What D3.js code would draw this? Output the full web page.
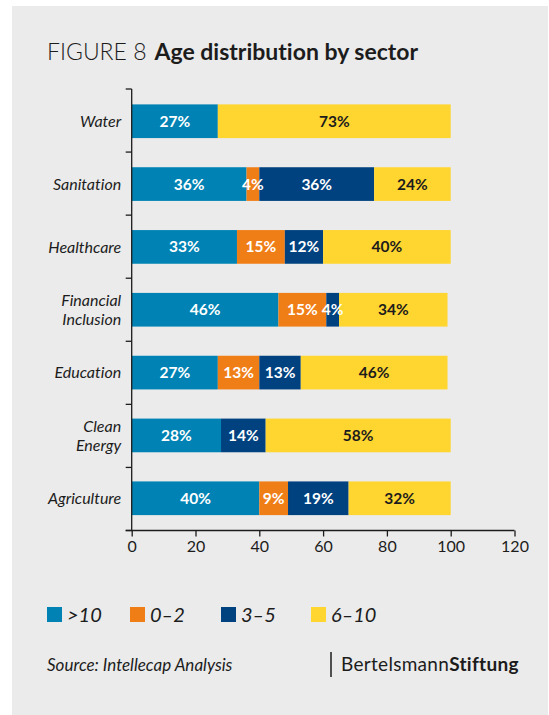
<!DOCTYPE html>
<html>
<head>
<meta charset="utf-8">
<script src="https://cdn.jsdelivr.net/npm/d3@7/dist/d3.min.js"></script>
<style>
  html, body { margin: 0; padding: 0; background: #ffffff; }
  svg { display: block; font-family: Lato, "Open Sans", sans-serif; font-variant-ligatures: none; }
</style>
</head>
<body>
<svg id="chart" width="549" height="715"></svg>
<script>
// Share of enterprises by age (years) within each sector, in percent
const sectors = ["Water", "Sanitation", "Healthcare", "Financial Inclusion", "Education", "Clean Energy", "Agriculture"];
const over10   = [27, 36, 33, 46, 27, 28, 40];
const age0to2  = [0, 4, 15, 15, 13, 0, 9];
const age3to5  = [0, 36, 12, 4, 13, 14, 19];
const age6to10 = [73, 24, 40, 34, 46, 58, 32];
const seriesNames = [">10", "0–2", "3–5", "6–10"];
const seriesColors = ["#0083b4", "#f07e17", "#00427f", "#ffd52f"];
const xTicks = [0, 20, 40, 60, 80, 100, 120];

const svg = d3.select("#chart");
const ink = "#1c1c1c";

// panel background
svg.append("rect").attr("x", 12).attr("y", 6).attr("width", 536).attr("height", 709).attr("fill", "#ebebeb");

// title
const title = svg.append("text").attr("x", 47).attr("y", 60).attr("font-size", 23).attr("fill", ink);
title.append("tspan").attr("font-weight", 300).text("FIGURE 8");
title.append("tspan").attr("font-weight", 700).attr("dx", 8).text("Age distribution by sector");

// rows for stacking
const rows = sectors.map((s, i) => ({
  sector: s,
  [seriesNames[0]]: over10[i],
  [seriesNames[1]]: age0to2[i],
  [seriesNames[2]]: age3to5[i],
  [seriesNames[3]]: age6to10[i]
}));
const stacked = d3.stack().keys(seriesNames)(rows);

const x = d3.scaleLinear().domain([0, 120]).range([131.7, 514.5]);
const y = d3.scaleBand().domain(sectors).range([89, 530.5]).paddingInner(0.464).paddingOuter(0.245);
const color = d3.scaleOrdinal().domain(seriesNames).range(seriesColors);

// bars
const layers = svg.append("g").selectAll("g").data(stacked).join("g").attr("fill", d => color(d.key));
layers.selectAll("rect").data(d => d.map(v => ({ v, key: d.key })).filter(o => o.v[1] - o.v[0] > 0))
  .join("rect")
  .attr("x", o => x(o.v[0]))
  .attr("y", o => y(o.v.data.sector))
  .attr("width", o => x(o.v[1]) - x(o.v[0]))
  .attr("height", y.bandwidth());

// value labels
const labels = svg.append("g").attr("font-size", 15.5).attr("font-weight", 700).attr("text-anchor", "middle");
stacked.forEach(layer => {
  layer.forEach(v => {
    const val = v[1] - v[0];
    if (val <= 0) return;
    labels.append("text")
      .attr("x", x((v[0] + v[1]) / 2))
      .attr("y", y(v.data.sector) + y.bandwidth() / 2)
      .attr("dy", "0.36em")
      .attr("fill", layer.key === "6–10" ? ink : "#ffffff")
      .text(val + "%");
  });
});

// y axis: line with ticks at band boundaries
const yAxis = svg.append("g").attr("stroke", ink).attr("stroke-width", 1.3);
const [r0, r1] = y.range();
yAxis.append("line").attr("x1", x(0)).attr("x2", x(0)).attr("y1", r0).attr("y2", r1);
const bounds = d3.range(sectors.length + 1).map(i => r0 + i * (r1 - r0) / sectors.length);
yAxis.selectAll("line.tick").data(bounds).join("line").attr("class", "tick")
  .attr("x1", x(0) - 6).attr("x2", x(0)).attr("y1", d => d).attr("y2", d => d);

// sector names
const names = svg.append("g").attr("font-size", 16).attr("font-style", "italic").attr("text-anchor", "end").attr("fill", ink);
sectors.forEach(s => {
  const parts = s.split(" ");
  const cy = y(s) + y.bandwidth() / 2;
  const t = names.append("text").attr("x", x(0) - 10.5).attr("y", cy);
  parts.forEach((p, i) => {
    t.append("tspan").attr("x", x(0) - 10.5)
      .attr("dy", i === 0 ? (0.36 - (parts.length - 1) * 0.6) + "em" : "1.2em")
      .text(p);
  });
});

// x axis
const xAxis = svg.append("g").attr("transform", `translate(0,${r1})`)
  .call(d3.axisBottom(x).tickValues(xTicks).tickSize(6).tickPadding(4).tickFormat(d3.format("d")));
xAxis.select(".domain").attr("d", `M${x(0) - 6},0H${x(120)}`).attr("stroke", ink).attr("stroke-width", 1.3);
xAxis.selectAll(".tick line").attr("stroke", ink).attr("stroke-width", 1.3);
xAxis.selectAll(".tick text").attr("font-size", 16).attr("font-family", "Lato, sans-serif").attr("fill", ink);

// legend
const legendX = [47, 130, 221, 311];
const legend = svg.append("g");
seriesNames.forEach((n, i) => {
  legend.append("rect").attr("x", legendX[i]).attr("y", 607).attr("width", 15).attr("height", 15).attr("fill", color(n));
  legend.append("text").attr("x", legendX[i] + 20).attr("y", 622).attr("font-size", 20).attr("font-style", "italic")
    .attr("fill", ink).text(n);
});

// source and logo
svg.append("text").attr("x", 47).attr("y", 671).attr("font-size", 17).attr("font-style", "italic").attr("fill", ink)
  .text("Source: Intellecap Analysis");
svg.append("line").attr("x1", 331).attr("x2", 331).attr("y1", 652).attr("y2", 677).attr("stroke", ink).attr("stroke-width", 1.5);
const logo = svg.append("text").attr("x", 341).attr("y", 671).attr("font-size", 19).attr("letter-spacing", 0.3).attr("fill", ink);
logo.append("tspan").text("Bertelsmann");
logo.append("tspan").attr("font-weight", 700).text("Stiftung");
</script>
</body>
</html>
